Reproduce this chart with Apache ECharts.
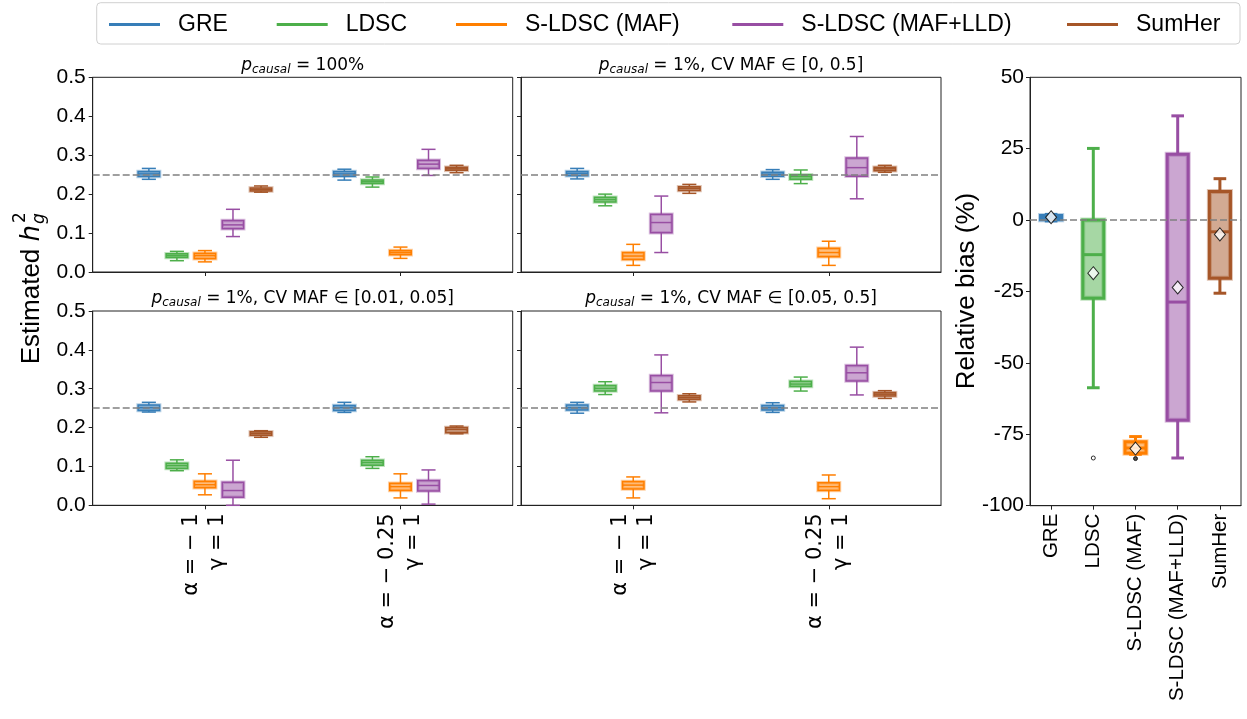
<!DOCTYPE html>
<html>
<head>
<meta charset="utf-8">
<script src="https://cdn.jsdelivr.net/npm/echarts@6/dist/echarts.min.js"></script>
<style>
  html, body { margin: 0; padding: 0; background: #fff; }
  #chart { width: 1247px; height: 719px; }
</style>
</head>
<body>
<div id="chart"></div>
<script>
// Methods and their colours (shared by all panels and the legend)
const methods = ['GRE', 'LDSC', 'S-LDSC (MAF)', 'S-LDSC (MAF+LLD)', 'SumHer'];
const colors = ['#377eb8', '#4daf4a', '#ff7f00', '#984ea3', '#a65628'];

// Simulation settings on the x axis of the four h2 panels
const settings = ['α = − 1\nγ = 1', 'α = − 0.25\nγ = 1'];

// Panel titles (rich text: italic p with subscript)
const panelTitles = [
  '{p|p}{s|causal}{t| = 100%}',
  '{p|p}{s|causal}{t| = 1%, CV MAF ∈ [0, 0.5]}',
  '{p|p}{s|causal}{t| = 1%, CV MAF ∈ [0.01, 0.05]}',
  '{p|p}{s|causal}{t| = 1%, CV MAF ∈ [0.05, 0.5]}'
];

const trueH2 = 0.25;

// Box statistics [min, q1, median, q3, max]; per method: [α = -1, α = -0.25]
const allCausal = [
  [[0.238, 0.245, 0.252, 0.258, 0.266], [0.236, 0.246, 0.252, 0.258, 0.264]],
  [[0.029, 0.037, 0.042, 0.047, 0.053], [0.218, 0.227, 0.232, 0.236, 0.244]],
  [[0.026, 0.034, 0.042, 0.048, 0.055], [0.035, 0.044, 0.050, 0.055, 0.064]],
  [[0.091, 0.111, 0.121, 0.132, 0.161], [0.248, 0.266, 0.277, 0.287, 0.315]],
  [[0.205, 0.208, 0.212, 0.216, 0.221], [0.255, 0.261, 0.265, 0.269, 0.274]]
];
const sparseAllMaf = [
  [[0.239, 0.247, 0.253, 0.258, 0.266], [0.238, 0.246, 0.251, 0.256, 0.263]],
  [[0.170, 0.180, 0.186, 0.192, 0.200], [0.227, 0.238, 0.245, 0.250, 0.262]],
  [[0.017, 0.032, 0.041, 0.050, 0.071], [0.017, 0.039, 0.050, 0.061, 0.079]],
  [[0.050, 0.101, 0.127, 0.148, 0.195], [0.188, 0.246, 0.268, 0.293, 0.348]],
  [[0.202, 0.209, 0.215, 0.219, 0.225], [0.256, 0.260, 0.265, 0.269, 0.274]]
];
const sparseRareMaf = [
  [[0.240, 0.244, 0.251, 0.258, 0.265], [0.239, 0.244, 0.251, 0.257, 0.265]],
  [[0.089, 0.095, 0.102, 0.108, 0.117], [0.095, 0.103, 0.110, 0.116, 0.125]],
  [[0.027, 0.045, 0.053, 0.062, 0.081], [0.019, 0.038, 0.048, 0.057, 0.081]],
  [[0.000, 0.021, 0.038, 0.059, 0.116], [0.003, 0.037, 0.051, 0.064, 0.091]],
  [[0.175, 0.180, 0.185, 0.189, 0.192], [0.184, 0.187, 0.195, 0.200, 0.204]]
];
const sparseCommonMaf = [
  [[0.237, 0.245, 0.251, 0.258, 0.265], [0.239, 0.245, 0.251, 0.257, 0.264]],
  [[0.285, 0.294, 0.301, 0.308, 0.318], [0.294, 0.306, 0.312, 0.319, 0.330]],
  [[0.019, 0.042, 0.052, 0.061, 0.073], [0.017, 0.038, 0.048, 0.058, 0.078]],
  [[0.238, 0.294, 0.316, 0.334, 0.387], [0.284, 0.320, 0.341, 0.360, 0.407]],
  [[0.266, 0.272, 0.277, 0.282, 0.287], [0.275, 0.281, 0.286, 0.290, 0.295]]
];
const panelStats = [allCausal, sparseAllMaf, sparseRareMaf, sparseCommonMaf];

// Relative bias (%) summary per method
const biasStats = [
  [-0.3, 0.1, 0.9, 1.6, 2.0],
  [-58.7, -27.4, -12.1, 0.0, 25.1],
  [-82.0, -81.6, -79.8, -77.6, -75.8],
  [-83.3, -70.1, -28.7, 23.1, 36.5],
  [-25.6, -20.4, -4.1, 10.0, 14.5]
];
const biasMeans = [1.0, -18.6, -80.0, -23.6, -5.0];
const biasOutliers = [[1, -83.3], [2, -83.5]];

// ---- layout ----
const panelGrids = [
  { left: 92.7, top: 77.3, width: 420, height: 194.7 },
  { left: 521, top: 77.3, width: 420, height: 194.7 },
  { left: 92.7, top: 311, width: 420, height: 194.3 },
  { left: 521, top: 311, width: 420, height: 194.3 }
];
const biasGrid = { left: 1030, top: 77.3, width: 211, height: 428.4 };
const legendLefts = [104, 271.7, 451, 727.3, 1062];
const xRange = [-0.574, 1.574];
const hueStep = 0.1434;
const FRAME = '#222';

function rgba(hex, a) {
  const n = parseInt(hex.slice(1), 16);
  return 'rgba(' + (n >> 16) + ',' + ((n >> 8) & 255) + ',' + (n & 255) + ',' + a + ')';
}

// Box-and-whisker drawn from [x, min, q1, median, q3, max]
function boxRenderer(color, boxFrac, capFrac, lw) {
  const fill = rgba(color, 0.5), halo = rgba(color, 0.35);
  return function (params, api) {
    const xv = api.value(0);
    const unit = api.size([1, 0])[0];
    const bw = unit * boxFrac, cw = unit * capFrac;
    const cx = api.coord([xv, 0])[0];
    const y = k => api.coord([xv, api.value(k)])[1];
    const yLo = y(1), yQ1 = y(2), yMed = y(3), yQ3 = y(4), yHi = y(5);
    const ln = (x1, y1, x2, y2) => ({
      type: 'line', shape: { x1, y1, x2, y2 },
      style: { stroke: color, lineWidth: lw }
    });
    const rect = { x: cx - bw / 2, y: yQ3, width: bw, height: yQ1 - yQ3 };
    return {
      type: 'group',
      children: [
        ln(cx, yQ3, cx, yHi),
        ln(cx, yQ1, cx, yLo),
        ln(cx - cw / 2, yHi, cx + cw / 2, yHi),
        ln(cx - cw / 2, yLo, cx + cw / 2, yLo),
        { type: 'rect', shape: rect, style: { fill: fill, stroke: halo, lineWidth: lw + 2 } },
        { type: 'rect', shape: rect, style: { fill: 'none', stroke: color, lineWidth: lw } },
        ln(cx - bw / 2, yMed, cx + bw / 2, yMed)
      ]
    };
  };
}

function refLine(axisIdx, value) {
  return {
    type: 'line', data: [], xAxisIndex: axisIdx, yAxisIndex: axisIdx, z: 1, silent: true,
    markLine: {
      silent: true, symbol: ['none', 'none'], label: { show: false },
      lineStyle: { color: '#808080', type: [7, 3], width: 1.5 },
      data: [{ yAxis: value }]
    }
  };
}

const grids = [], xAxes = [], yAxes = [], series = [];

panelGrids.forEach((g, p) => {
  grids.push(Object.assign({ show: true, borderColor: FRAME, borderWidth: 1, backgroundColor: 'transparent' }, g));
  xAxes.push({
    type: 'value', gridIndex: p, min: xRange[0], max: xRange[1],
    splitLine: { show: false },
    axisLine: { show: true, onZero: false, lineStyle: { color: FRAME, width: 1 } },
    axisTick: { show: true, customValues: [0, 1], length: 4, lineStyle: { color: FRAME } },
    axisLabel: {
      show: p >= 2, customValues: [0, 1], rotate: 90, margin: 8,
      formatter: v => settings[Math.round(v)],
      fontFamily: 'DejaVu Sans', fontSize: 21, lineHeight: 26, color: '#000'
    }
  });
  yAxes.push({
    type: 'value', gridIndex: p, min: 0, max: 0.5, interval: 0.1,
    splitLine: { show: false },
    axisLine: { show: true, onZero: false, lineStyle: { color: FRAME, width: 1 } },
    axisTick: { show: true, length: 4, lineStyle: { color: FRAME } },
    axisLabel: {
      show: p % 2 === 0, margin: 7, formatter: v => v.toFixed(1),
      fontFamily: 'Liberation Sans', fontSize: 21, color: '#000'
    }
  });
  series.push(refLine(p, trueH2));
  methods.forEach((m, i) => {
    const stats = panelStats[p][i];
    series.push({
      type: 'custom', name: m, xAxisIndex: p, yAxisIndex: p, z: 2,
      itemStyle: { color: colors[i] },
      renderItem: boxRenderer(colors[i], 0.11, 0.072, 1.5),
      encode: { x: 0, y: [1, 2, 3, 4, 5] },
      data: stats.map((s, k) => [k + (i - 2) * hueStep].concat(s))
    });
  });
});

// Relative bias panel
grids.push(Object.assign({ show: true, borderColor: FRAME, borderWidth: 1, backgroundColor: 'transparent' }, biasGrid));
xAxes.push({
  type: 'category', gridIndex: 4, data: methods,
  axisLine: { show: true, onZero: false, lineStyle: { color: FRAME, width: 1 } },
  axisTick: { show: true, alignWithLabel: true, length: 4, lineStyle: { color: FRAME } },
  axisLabel: { rotate: 90, margin: 8, fontFamily: 'Liberation Sans', fontSize: 20.5, color: '#000', interval: 0 }
});
yAxes.push({
  type: 'value', gridIndex: 4, min: -100, max: 50, interval: 25,
  splitLine: { show: false },
  axisLine: { show: true, onZero: false, lineStyle: { color: FRAME, width: 1 } },
  axisTick: { show: true, length: 4, lineStyle: { color: FRAME } },
  axisLabel: { margin: 6, fontFamily: 'Liberation Sans', fontSize: 21, color: '#000' }
});
series.push(refLine(4, 0));
methods.forEach((m, i) => {
  series.push({
    type: 'custom', name: m, xAxisIndex: 4, yAxisIndex: 4, z: 2,
    itemStyle: { color: colors[i] },
    renderItem: boxRenderer(colors[i], 0.5, 0.3, 3),
    encode: { x: 0, y: [1, 2, 3, 4, 5] },
    data: [[i].concat(biasStats[i])]
  });
});
series.push({
  type: 'scatter', xAxisIndex: 4, yAxisIndex: 4, z: 4, silent: true,
  symbol: 'circle', symbolSize: 4,
  data: biasOutliers.map((o, k) => ({
    value: o,
    itemStyle: k === 0
      ? { color: '#fff', borderColor: '#000', borderWidth: 1 }
      : { color: '#222', borderColor: '#000', borderWidth: 1 }
  }))
});
series.push({
  type: 'scatter', xAxisIndex: 4, yAxisIndex: 4, z: 5, silent: true,
  symbol: 'diamond', symbolSize: [11, 13],
  itemStyle: { color: '#fff', borderColor: '#000', borderWidth: 1 },
  data: biasMeans.map((v, i) => [i, v])
});

// Titles and axis names
const titleRich = {
  p: { fontFamily: 'DejaVu Sans', fontStyle: 'italic', fontSize: 17, color: '#000' },
  s: { fontFamily: 'DejaVu Sans', fontStyle: 'italic', fontSize: 12, color: '#000', padding: [8, 0, 0, 0] },
  t: { fontFamily: 'DejaVu Sans', fontSize: 17, color: '#000' }
};
const graphics = [
  {
    type: 'rect', z: 0, silent: true,
    shape: { x: 96.7, y: 2.7, width: 1143.3, height: 41.3, r: 4 },
    style: { fill: 'rgba(255,255,255,0.8)', stroke: '#d0d0d0', lineWidth: 1 }
  }
];
panelGrids.forEach((g, p) => {
  graphics.push({
    type: 'text', silent: true,
    x: g.left + g.width / 2, y: p < 2 ? 66 : 299,
    style: { text: panelTitles[p], rich: titleRich, align: 'center', verticalAlign: 'middle' }
  });
});
graphics.push({
  type: 'group', x: 32, y: 291, rotation: Math.PI / 2, silent: true,
  children: [
    {
      type: 'text', x: 66, y: 0,
      style: {
        text: '{a|Estimated }{h|h}',
        rich: {
          a: { fontFamily: 'Liberation Sans', fontSize: 26, color: '#000' },
          h: { fontFamily: 'DejaVu Sans', fontStyle: 'italic', fontSize: 26, color: '#000' }
        },
        align: 'right', verticalAlign: 'middle'
      }
    },
    {
      type: 'text', x: 68, y: -11,
      style: { text: '2', fontFamily: 'DejaVu Sans', fontSize: 17, fill: '#000', align: 'left', verticalAlign: 'middle' }
    },
    {
      type: 'text', x: 67, y: 8,
      style: { text: 'g', fontFamily: 'DejaVu Sans', fontStyle: 'italic', fontSize: 17, fill: '#000', align: 'left', verticalAlign: 'middle' }
    }
  ]
});
graphics.push({
  type: 'text', x: 967, y: 291, rotation: Math.PI / 2, silent: true,
  style: {
    text: 'Relative bias (%)', fontFamily: 'Liberation Sans', fontSize: 26, fill: '#000',
    align: 'center', verticalAlign: 'middle'
  }
});

// One legend entry per method, placed along the framed legend row
const legends = methods.map((m, i) => ({
  left: legendLefts[i], top: 8, icon: 'rect', itemWidth: 51, itemHeight: 3,
  selectedMode: false, z: 3,
  textStyle: { fontFamily: 'Liberation Sans', fontSize: 23, color: '#000', padding: [0, 0, 0, 13] },
  data: [{ name: m, itemStyle: { color: colors[i] } }]
}));

const chart = echarts.init(document.getElementById('chart'), null, { renderer: 'canvas' });
chart.setOption({
  animation: false,
  backgroundColor: '#fff',
  textStyle: { fontFamily: 'Liberation Sans' },
  legend: legends,
  grid: grids,
  xAxis: xAxes,
  yAxis: yAxes,
  graphic: graphics,
  series: series
});
</script>
</body>
</html>
